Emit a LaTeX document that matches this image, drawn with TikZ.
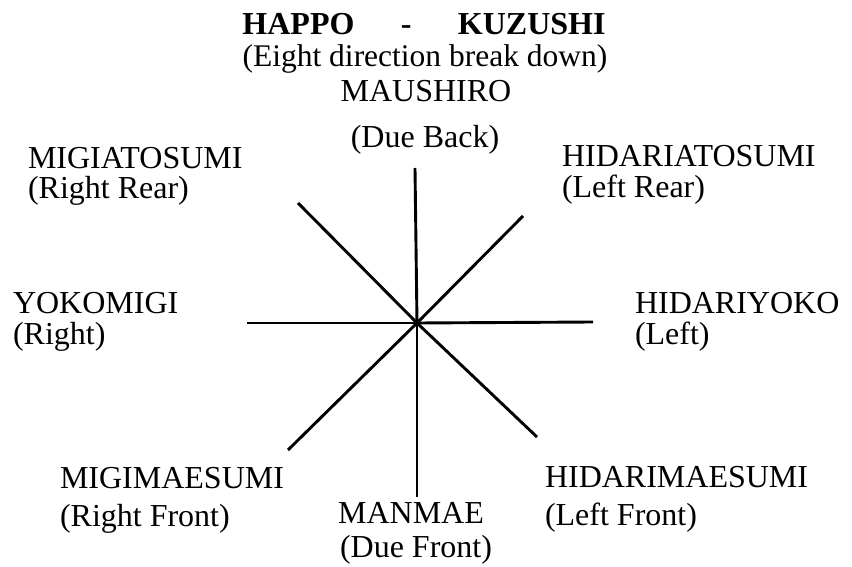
\documentclass[tikz,border=0pt]{standalone}
\usepackage{fontspec}
\setmainfont{Liberation Serif}
\begin{document}
\begin{tikzpicture}[x=1pt,y=-1pt,
  lbl/.style={inner sep=0pt,outer sep=0pt,font=\fontsize{32}{34}\selectfont},
  lw/.style={lbl,anchor=base west},
  lc/.style={lbl,anchor=base},
  spoke/.style={line width=2.9pt,black}]
\useasboundingbox (0,0) rectangle (852,567);
% title
\node[lc,font=\fontsize{32}{34}\selectfont\bfseries] (title) at (424,35) {HAPPO\hspace{1.45em}-\hspace{1.45em}KUZUSHI};
\node[lc,font=\fontsize{31.5}{34}\selectfont] (sub) at (425,67) {(Eight direction break down)};
% labels
\node[lc] (n1) at (426,102) {MAUSHIRO};
\node[lc] (n2) at (425,148) {(Due Back)};
\node[lw] (nw1) at (28,168) {MIGIATOSUMI};
\node[lw] (nw2) at (28,198) {(Right Rear)};
\node[lw] (ne1) at (562,167) {HIDARIATOSUMI};
\node[lw] (ne2) at (562,197) {(Left Rear)};
\node[lw] (w1) at (13,313) {YOKOMIGI};
\node[lw] (w2) at (13,344) {(Right)};
\node[lw] (e1) at (635,313) {HIDARIYOKO};
\node[lw] (e2) at (635,344) {(Left)};
\node[lw] (sw1) at (60,488) {MIGIMAESUMI};
\node[lw] (sw2) at (60,526) {(Right Front)};
\node[lw] (se1) at (545,487) {HIDARIMAESUMI};
\node[lw] (se2) at (545,525) {(Left Front)};
\node[lc] (s1) at (411,523) {MANMAE};
\node[lc] (s2) at (416,557) {(Due Front)};
% spokes
\coordinate (c) at (417,323);
\coordinate (pN) at (415,168);
\coordinate (pS) at (417,497);
\coordinate (pW) at (247,323);
\coordinate (pE) at (593,322);
\coordinate (pNW) at (298,203);
\coordinate (pSE) at (537,437);
\coordinate (pNE) at (523,216);
\coordinate (pSW) at (288,450);
\foreach \p in {pN,pS,pW,pE,pNW,pSE,pNE,pSW}
  \draw[spoke] (c) -- (\p);
\end{tikzpicture}
\end{document}
